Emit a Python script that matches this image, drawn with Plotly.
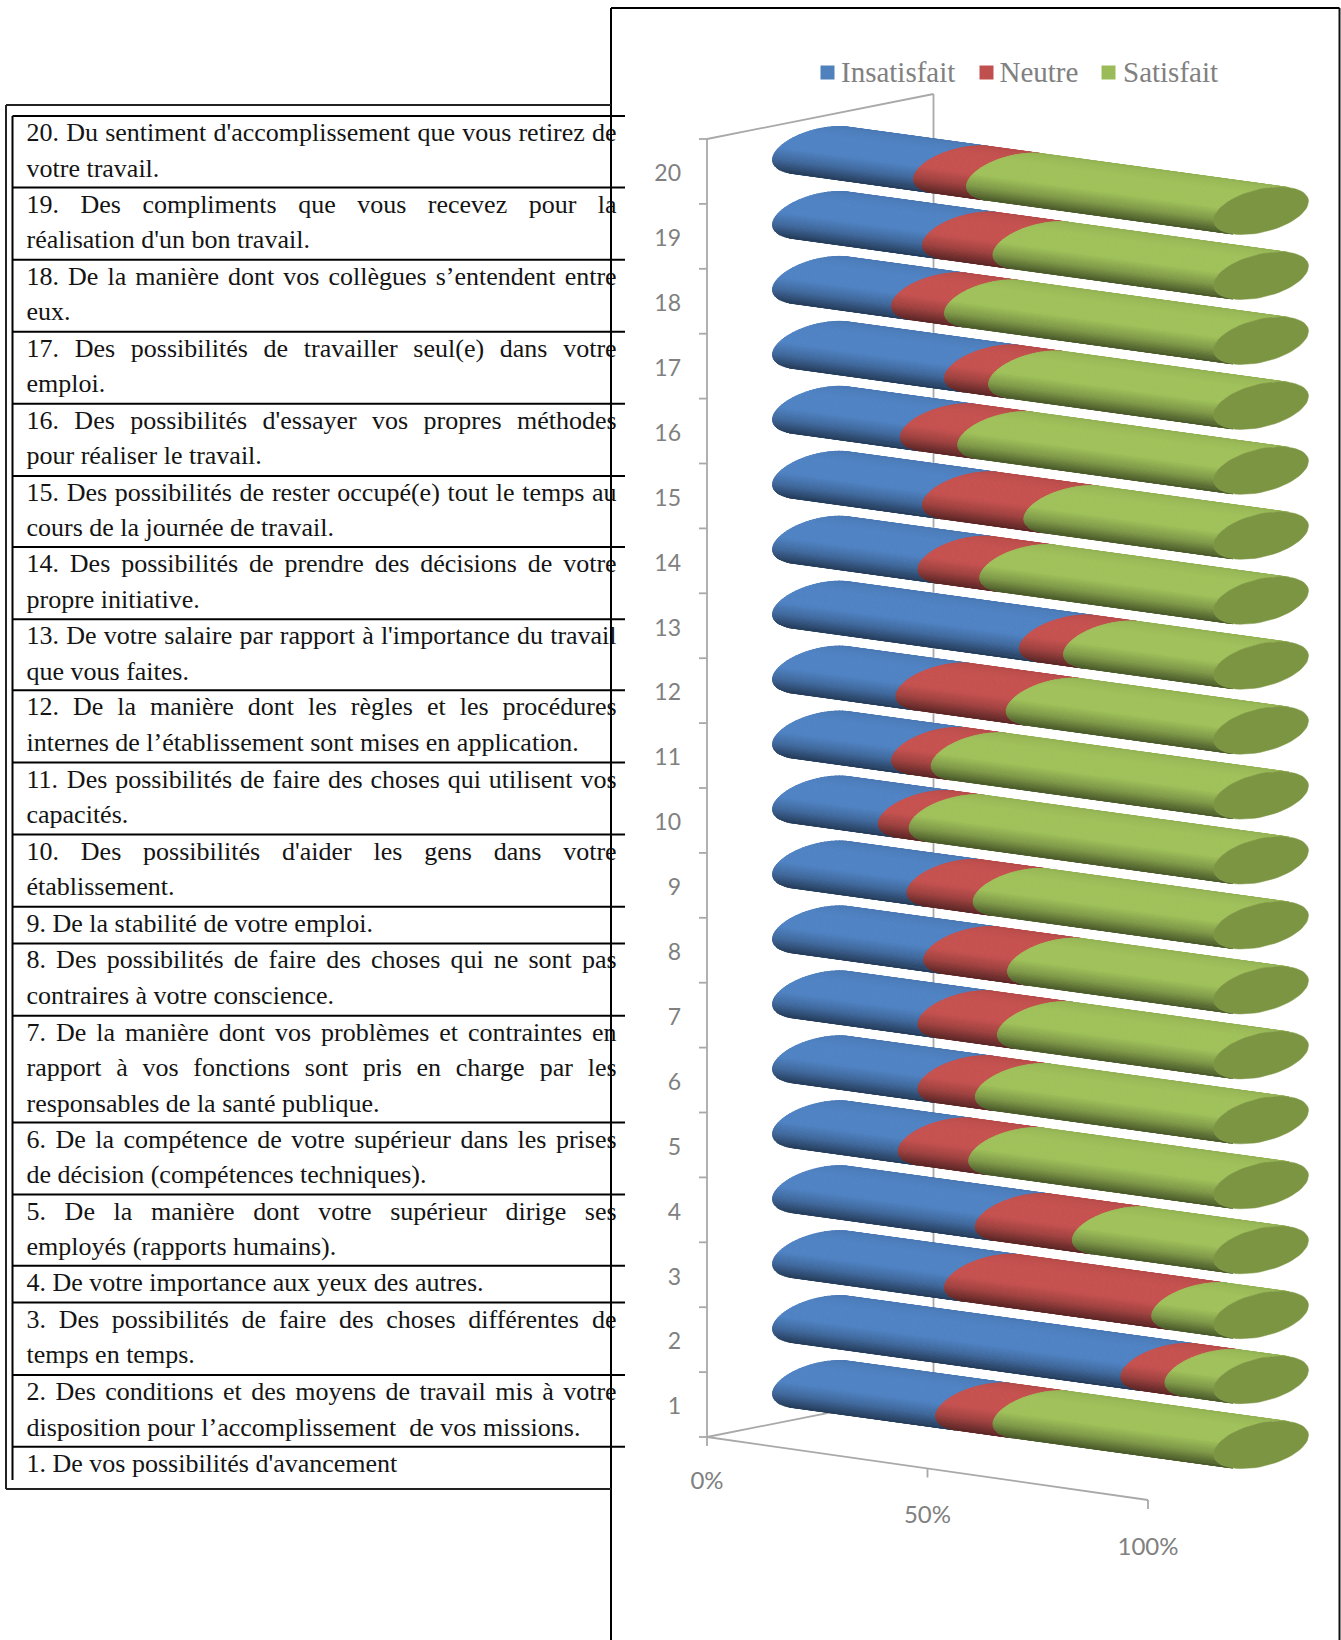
import unicodedata
import numpy as np
import plotly.graph_objects as go

# ---------- data ----------
CATEGORIES = list(range(1, 21))
INSATISFAIT = [37, 79, 39, 46, 28.5, 33, 33, 34.3, 30.5, 24, 27, 28, 56, 33, 34, 29, 39, 27, 34, 32]
NEUTRE      = [13, 10, 47, 22, 16, 13, 18, 19, 15, 7, 9, 25, 10, 14, 23, 13, 10, 12, 16, 12]
SATISFAIT   = [50, 11, 14, 32, 55.5, 54, 49, 46.7, 54.5, 69, 64, 47, 34, 53, 43, 58, 51, 61, 50, 56]
SERIES_NAMES = ["Insatisfait", "Neutre", "Satisfait"]
X_TICKS = [0, 50, 100]

ROWS = [
    ["20. Du sentiment d'accomplissement que vous retirez de", "votre travail."],
    ["19. Des compliments que vous recevez pour la", "réalisation d'un bon travail."],
    ["18. De la manière dont vos collègues s’entendent entre", "eux."],
    ["17. Des possibilités de travailler seul(e) dans votre", "emploi."],
    ["16. Des possibilités d'essayer vos propres méthodes", "pour réaliser le travail."],
    ["15. Des possibilités de rester occupé(e) tout le temps au", "cours de la journée de travail."],
    ["14. Des possibilités de prendre des décisions de votre", "propre initiative."],
    ["13. De votre salaire par rapport à l'importance du travail", "que vous faites."],
    ["12. De la manière dont les règles et les procédures", "internes de l’établissement sont mises en application."],
    ["11. Des possibilités de faire des choses qui utilisent vos", "capacités."],
    ["10. Des possibilités d'aider les gens dans votre", "établissement."],
    ["9. De la stabilité de votre emploi."],
    ["8. Des possibilités de faire des choses qui ne sont pas", "contraires à votre conscience."],
    ["7. De la manière dont vos problèmes et contraintes en", "rapport à vos fonctions sont pris en charge par les", "responsables de la santé publique."],
    ["6. De la compétence de votre supérieur dans les prises", "de décision (compétences techniques)."],
    ["5. De la manière dont votre supérieur dirige ses", "employés (rapports humains)."],
    ["4. De votre importance aux yeux des autres."],
    ["3. Des possibilités de faire des choses différentes de", "temps en temps."],
    ["2. Des conditions et des moyens de travail mis à votre", "disposition pour l’accomplissement  de vos missions."],
    ["1. De vos possibilités d'avancement"],
]

# ---------- page geometry ----------
W, H = 1341, 1640
ROW_EDGES = [116, 187.5, 259.7, 331.7, 403.7, 475.9, 547, 619.2, 690.3, 762.5, 834.6,
             906.8, 943.4, 1015.8, 1122.5, 1194.6, 1265.8, 1302.5, 1375, 1446.8]
TEXT_L, TEXT_R = 26.5, 616.6
TEXT_SIZE = 26
GREY_AXIS = "#a9a9a9"
GREY_TEXT = "#808080"
BASE_COLORS = [(79, 129, 189), (192, 80, 77), (155, 187, 89)]
BODY_COLORS = [(80, 131, 196), (198, 82, 80), (160, 193, 91)]
CAP_COLOR = "#7c9543"

# projection of the 3-D chart onto the page
ORIGIN = np.array([707.0, 1437.0])
STEP_Y = 64.9
PER_PCT = np.array([4.41, 0.605])
FLOOR_PCT = np.array([4.41, 0.63])
BAR0 = np.array([820.0, 150.3])   # centre of bar 20 at 0 %
BAR_STEP = 64.95
ELL_A = np.array([47.5, -9.5])
ELL_B = np.array([0.0, 21.8])
BACK = np.array([226.5, -45.0])


def bar_center(cat, pct):
    return BAR0 + np.array([0.0, (20 - cat) * BAR_STEP]) + PER_PCT * pct


# tangent angle of the ellipse with the bar direction
t_top = -np.arctan2(ELL_B[1] * PER_PCT[0], ELL_A[0] * PER_PCT[1] - ELL_A[1] * PER_PCT[0])


def rim(theta):
    t = t_top - theta
    return ELL_A * np.cos(t) + ELL_B * np.sin(t)


def shade(s):
    return np.interp(s, [0, 0.06, 0.22, 0.55, 0.78, 1.0], [0.92, 0.96, 1.0, 1.0, 0.80, 0.48])


fig = go.Figure()

# chart axes -- walls behind the bars
axis_x, axis_y = [], []
top_left = ORIGIN + np.array([0, -20 * STEP_Y])
for p, q in [(ORIGIN, top_left), (top_left, top_left + BACK),
             (top_left + BACK, ORIGIN + BACK), (ORIGIN + BACK, ORIGIN),
             (ORIGIN, ORIGIN + FLOOR_PCT * 100)]:
    axis_x += [p[0], q[0], None]
    axis_y += [p[1], q[1], None]
for c in range(0, 21):
    y = ORIGIN[1] - c * STEP_Y
    axis_x += [ORIGIN[0] - 8, ORIGIN[0], None]
    axis_y += [y, y, None]
for v in X_TICKS:
    p = ORIGIN + FLOOR_PCT * v
    axis_x += [p[0], p[0], None]
    axis_y += [p[1], p[1] + 9, None]
fig.add_trace(go.Scatter(x=axis_x, y=axis_y, mode="lines", name="axes",
                         line=dict(color=GREY_AXIS, width=1.8), hoverinfo="skip", showlegend=False))

# cylinders: each series is painted as shaded strips along the bar
N = 40
thetas = np.linspace(0, np.pi, N + 1)
series = [INSATISFAIT, NEUTRE, SATISFAIT]
starts = np.zeros(20)
for name, vals, col in zip(SERIES_NAMES, series, BODY_COLORS):
    vals = np.array(vals, dtype=float)
    for i in range(N):
        xs, ys = [], []
        r0, r1 = rim(thetas[i]), rim(thetas[i + 1])
        for cat, s0, v in zip(CATEGORIES, starts, vals):
            a, b = bar_center(cat, s0), bar_center(cat, s0 + v)
            poly = [a + r0, b + r0, b + r1, a + r1, a + r0]
            xs += [p[0] for p in poly] + [None]
            ys += [p[1] for p in poly] + [None]
        s = (1 - np.cos((thetas[i] + thetas[i + 1]) / 2)) / 2
        f = shade(s)
        c = "rgb(%d,%d,%d)" % tuple(int(round(u * f)) for u in col)
        fig.add_trace(go.Scatter(x=xs, y=ys, mode="lines", fill="toself", fillcolor=c,
                                 line=dict(color=c, width=1.0), name=name,
                                 hoverinfo="skip", showlegend=False))
    starts = starts + vals

# end caps
cap_t = np.linspace(0, 2 * np.pi, 60)
xs, ys = [], []
for cat, s in zip(CATEGORIES, starts):
    c = bar_center(cat, s)
    xs += list(c[0] + ELL_A[0] * np.cos(cap_t) + ELL_B[0] * np.sin(cap_t)) + [None]
    ys += list(c[1] + ELL_A[1] * np.cos(cap_t) + ELL_B[1] * np.sin(cap_t)) + [None]
fig.add_trace(go.Scatter(x=xs, y=ys, mode="lines", fill="toself", fillcolor=CAP_COLOR,
                         line=dict(color=CAP_COLOR, width=0.5), name="Satisfait",
                         hoverinfo="skip", showlegend=False))

# category labels
fig.add_trace(go.Scatter(
    x=[681] * 20, y=[ORIGIN[1] - (c - 0.5) * STEP_Y + 4 for c in CATEGORIES],
    text=[str(c) for c in CATEGORIES], mode="text", textposition="middle left",
    textfont=dict(family="Lato", size=23, color=GREY_TEXT), hoverinfo="skip", showlegend=False))
# percentage labels
fig.add_trace(go.Scatter(
    x=[(ORIGIN + FLOOR_PCT * v)[0] for v in X_TICKS],
    y=[(ORIGIN + FLOOR_PCT * v)[1] + off for v, off in zip(X_TICKS, [46, 48, 48.5])],
    text=["%d%%" % v for v in X_TICKS], mode="text", textposition="middle center",
    textfont=dict(family="Lato", size=24, color=GREY_TEXT), hoverinfo="skip", showlegend=False))

# legend
LEGEND_SWATCH_X = [827.5, 986.5, 1108.5]
LEGEND_TEXT_X = [841, 999.5, 1123]
LEGEND_Y = 74.5
fig.add_trace(go.Scatter(
    x=LEGEND_SWATCH_X, y=[72.5] * 3, mode="markers",
    marker=dict(symbol="square", size=14,
                color=["rgb(%d,%d,%d)" % c for c in BASE_COLORS], line=dict(width=0)),
    hoverinfo="skip", showlegend=False))
fig.add_trace(go.Scatter(
    x=LEGEND_TEXT_X, y=[LEGEND_Y] * 3, text=SERIES_NAMES, mode="text", textposition="middle right",
    textfont=dict(family="Liberation Serif", size=29, color=GREY_TEXT),
    hoverinfo="skip", showlegend=False))

# table text (justified word by word)
CHAR_W = dict(a=.444, b=.5, c=.444, d=.5, e=.444, f=.333, g=.5, h=.5, i=.278, j=.278, k=.5, l=.278,
              m=.778, n=.5, o=.5, p=.5, q=.5, r=.333, s=.389, t=.278, u=.5, v=.5, w=.722, x=.5, y=.5, z=.444)
CHAR_W.update({" ": .25, ".": .25, ",": .25, "'": .18, "’": .333, "(": .333, ")": .333,
               "D": .722, "C": .667})


def text_width(s):
    base = unicodedata.normalize("NFD", s)
    total = 0.0
    for ch in base:
        if unicodedata.combining(ch):
            continue
        total += CHAR_W.get(ch, .5)
    return total * TEXT_SIZE


tx, ty, tt = [], [], []
for r, lines in enumerate(ROWS):
    for li, line in enumerate(lines):
        y = ROW_EDGES[r] + 18.5 + 35.5 * li
        if li < len(lines) - 1:
            words = line.split()
            widths = [text_width(w) for w in words]
            gap = (TEXT_R - TEXT_L - sum(widths)) / (len(words) - 1)
            x = TEXT_L
            for w, wd in zip(words, widths):
                tx.append(x); ty.append(y); tt.append(w)
                x += wd + gap
        else:
            tx.append(TEXT_L); ty.append(y); tt.append(line)
fig.add_trace(go.Scatter(x=tx, y=ty, text=tt, mode="text", textposition="middle right",
                         textfont=dict(family="Liberation Serif", size=TEXT_SIZE, color="#141414"),
                         hoverinfo="skip", showlegend=False))

# frames and table rules
shapes = []


def seg(x0, y0, x1, y1, w=2.0, color="#000000"):
    shapes.append(dict(type="line", x0=x0, y0=y0, x1=x1, y1=y1, layer="above",
                       line=dict(color=color, width=w)))


seg(611, 8, 1339.5, 8)
seg(611, 8, 611, H)
seg(1339.5, 8, 1339.5, H, 2, "#111111")
seg(6, 105, 611, 105, 2, "#222222")
seg(6, 1489, 611, 1489, 2, "#222222")
seg(6, 105, 6, 1489, 2, "#222222")
seg(12.5, 116, 12.5, 1480, 2)
for y in ROW_EDGES:
    seg(12.5, y, 625, y)

fig.update_layout(
    width=W, height=H, margin=dict(l=0, r=0, t=0, b=0),
    paper_bgcolor="white", plot_bgcolor="white", shapes=shapes, showlegend=False,
    xaxis=dict(range=[0, W], visible=False, fixedrange=True),
    yaxis=dict(range=[H, 0], visible=False, fixedrange=True),
)
fig.write_html("out.html", config=dict(displayModeBar=False, responsive=False),
               post_script="document.body.style.margin='0';document.body.style.overflow='hidden';")
